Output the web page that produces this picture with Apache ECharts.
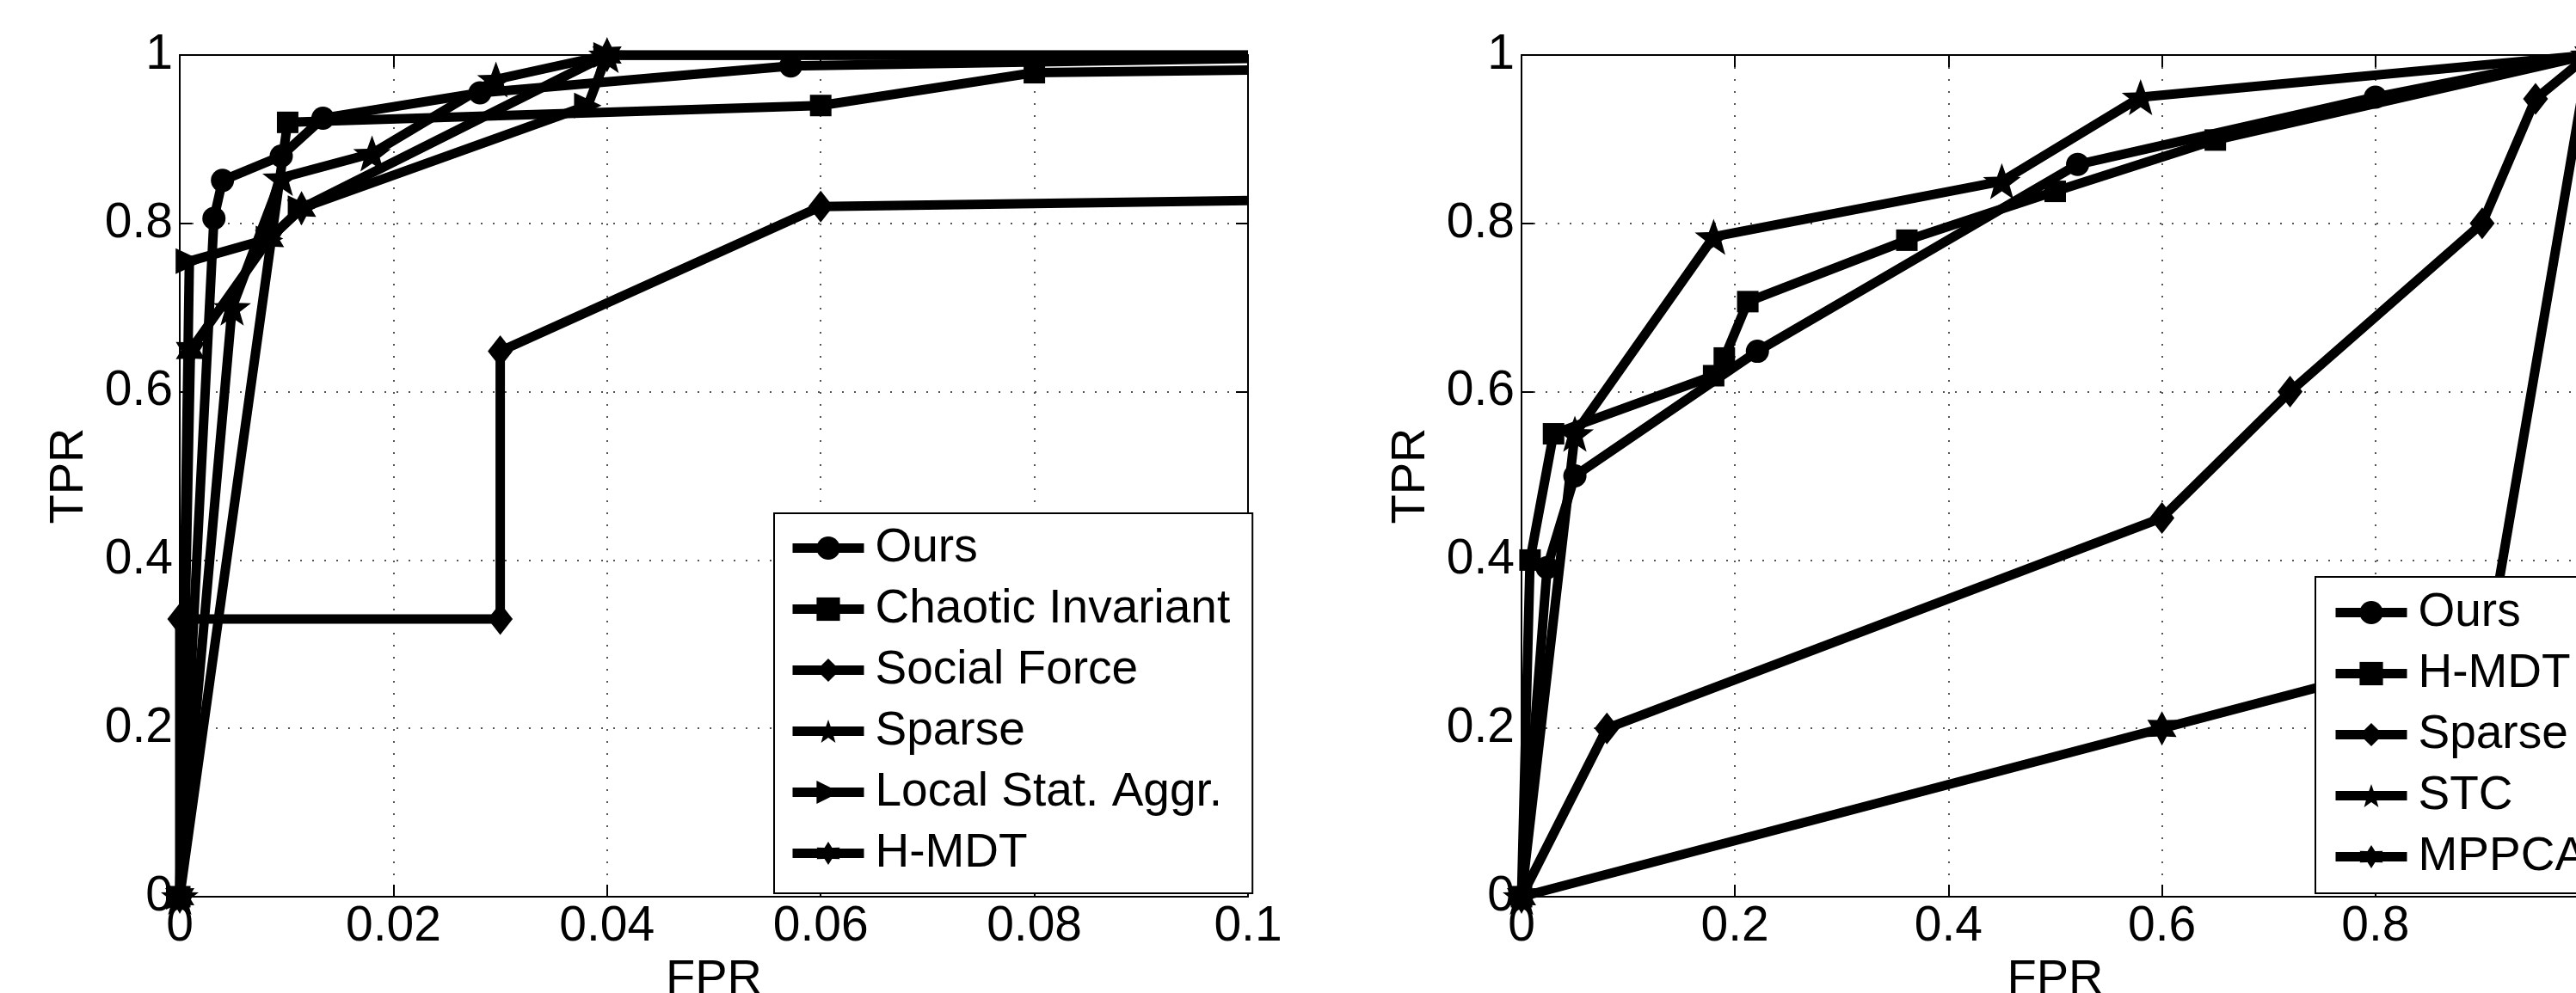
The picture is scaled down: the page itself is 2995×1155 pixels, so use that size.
<!DOCTYPE html>
<html>
<head>
<meta charset="utf-8">
<script src="https://cdn.jsdelivr.net/npm/echarts/dist/echarts.min.js"></script>
<style>
html, body { margin: 0; padding: 0; background: #fff; }
#main { width: 2995px; height: 1155px; }
</style>
</head>
<body>
<div id="main"></div>
<script>
// 左图数据 (FPR, TPR)
var leftNames = ['Ours', 'Chaotic Invariant', 'Social Force', 'Sparse', 'Local Stat. Aggr.', 'H-MDT'];
var leftOursX = [0, 0.0032, 0.0040, 0.0095, 0.0134, 0.0281, 0.0572, 0.1];
var leftOursY = [0, 0.806, 0.851, 0.880, 0.925, 0.955, 0.987, 0.996];
var leftChaoticX = [0, 0.0101, 0.06, 0.08, 0.1];
var leftChaoticY = [0, 0.920, 0.940, 0.979, 0.982];
var leftSocialX = [0, 0, 0.03, 0.03, 0.06, 0.1];
var leftSocialY = [0, 0.33, 0.33, 0.648, 0.820, 0.827];
var leftSparseX = [0, 0.0049, 0.0095, 0.0180, 0.0296, 0.04, 0.1];
var leftSparseY = [0, 0.700, 0.854, 0.883, 0.971, 1, 1];
var leftLsaX = [0, 0.0009, 0.0084, 0.0114, 0.0382, 0.04, 0.1];
var leftLsaY = [0, 0.755, 0.782, 0.818, 0.940, 1, 1];
var leftHmdtX = [0, 0.001, 0.0084, 0.0114, 0.04, 0.1];
var leftHmdtY = [0, 0.649, 0.782, 0.818, 1, 1];

// 右图数据
var rightNames = ['Ours', 'H-MDT', 'Sparse', 'STC', 'MPPCA'];
var rightOursX = [0, 0.024, 0.05, 0.221, 0.521, 0.80, 1];
var rightOursY = [0, 0.391, 0.50, 0.648, 0.870, 0.950, 1];
var rightHmdtX = [0, 0.008, 0.03, 0.18, 0.19, 0.212, 0.361, 0.50, 0.65, 1];
var rightHmdtY = [0, 0.40, 0.55, 0.619, 0.640, 0.707, 0.780, 0.838, 0.899, 1];
var rightSparseX = [0, 0.08, 0.60, 0.72, 0.90, 0.95, 1];
var rightSparseY = [0, 0.20, 0.45, 0.60, 0.80, 0.948, 1];
var rightStcX = [0, 0.05, 0.18, 0.45, 0.58, 1];
var rightStcY = [0, 0.55, 0.784, 0.850, 0.950, 1];
var rightMppcaX = [0, 0.60, 0.906, 1];
var rightMppcaY = [0, 0.20, 0.302, 1];

// 刻度
var leftXTicks = ['0', '0.02', '0.04', '0.06', '0.08', '0.1'];
var rightXTicks = ['0', '0.2', '0.4', '0.6', '0.8', '1'];
var yTicks = ['0', '0.2', '0.4', '0.6', '0.8', '1'];

var FONT = '"Liberation Sans", Arial, Helvetica, sans-serif';
var LW = 11; // 线宽

// 标记形状 (MATLAB 的 o s d p > h)
var STAR5 = 'path://M100 0 L124 67 L195.1 69.1 L139 112 L158.8 180.9 L100 141 L41.2 180.9 L61 112 L4.9 69.1 L76 67 Z';
var HEXA = 'path://M100 0 L128 52 L186.6 50 L156 100 L186.6 150 L128 148 L100 200 L72 148 L13.4 150 L44 100 L13.4 50 L72 52 Z';
var marks = {
    circle: { symbol: 'circle', size: 27, rotate: 0 },
    square: { symbol: 'rect', size: 25, rotate: 0 },
    diamond: { symbol: 'diamond', size: [29, 37], rotate: 0 },
    star: { symbol: STAR5, size: [44, 42], rotate: 0 },
    right: { symbol: 'triangle', size: [30, 32], rotate: -90 },
    hexa: { symbol: HEXA, size: [34, 40], rotate: 0 }
};

function makeSeries(name, xs, ys, mark, axisIdx, xMax) {
    var m = marks[mark];
    var pts = xs.map(function (x, i) {
        var p = { value: [x, ys[i]] };
        // 轴边界上的终点不画标记
        if (x >= xMax && xMax < 1) p.symbol = 'none';
        return p;
    });
    return {
        name: name,
        type: 'line',
        xAxisIndex: axisIdx,
        yAxisIndex: axisIdx,
        data: pts,
        symbol: m.symbol,
        symbolSize: m.size,
        symbolRotate: m.rotate,
        showAllSymbol: true,
        clip: true,
        lineStyle: { color: '#000', width: LW },
        itemStyle: { color: '#000' },
        emphasis: { disabled: true }
    };
}

function tickFmt(labels, step) {
    return function (v) {
        var i = Math.round(v / step);
        return labels[i] !== undefined ? labels[i] : '';
    };
}

function xAxisPair(gridIdx, max, step, labels) {
    return [{
        type: 'value', gridIndex: gridIdx, position: 'bottom',
        min: 0, max: max, interval: step,
        name: 'FPR', nameLocation: 'middle', nameGap: 62,
        nameTextStyle: { color: '#000', fontSize: 56, fontFamily: FONT },
        axisLine: { show: true, onZero: false, lineStyle: { color: '#000', width: 2 } },
        axisTick: { show: true, inside: true, length: 14, lineStyle: { color: '#000', width: 2 } },
        axisLabel: { color: '#000', fontSize: 57, fontFamily: FONT, margin: 7, showMinLabel: true, showMaxLabel: true, formatter: tickFmt(labels, step) },
        splitLine: { show: true, lineStyle: { color: '#555', width: 2, type: [2, 12] } }
    }, {
        type: 'value', gridIndex: gridIdx, position: 'top',
        min: 0, max: max, interval: step,
        axisLine: { show: true, onZero: false, lineStyle: { color: '#000', width: 2 } },
        axisTick: { show: true, inside: true, length: 14, lineStyle: { color: '#000', width: 2 } },
        axisLabel: { show: false },
        splitLine: { show: false }
    }];
}

function yAxisPair(gridIdx) {
    return [{
        type: 'value', gridIndex: gridIdx, position: 'left',
        min: 0, max: 1, interval: 0.2,
        name: 'TPR', nameLocation: 'middle', nameGap: 100,
        nameTextStyle: { color: '#000', fontSize: 56, fontFamily: FONT },
        axisLine: { show: true, onZero: false, lineStyle: { color: '#000', width: 2 } },
        axisTick: { show: true, inside: true, length: 14, lineStyle: { color: '#000', width: 2 } },
        axisLabel: { color: '#000', fontSize: 57, fontFamily: FONT, margin: 8, showMinLabel: true, showMaxLabel: true, formatter: tickFmt(yTicks, 0.2) },
        splitLine: { show: true, lineStyle: { color: '#555', width: 2, type: [2, 12] } }
    }, {
        type: 'value', gridIndex: gridIdx, position: 'right',
        min: 0, max: 1, interval: 0.2,
        axisLine: { show: true, onZero: false, lineStyle: { color: '#000', width: 2 } },
        axisTick: { show: true, inside: true, length: 14, lineStyle: { color: '#000', width: 2 } },
        axisLabel: { show: false },
        splitLine: { show: false }
    }];
}

function legendBox(names, left, top, pad) {
    return {
        orient: 'vertical',
        left: left, top: top,
        data: names,
        padding: pad,
        itemGap: 16,
        itemWidth: 83,
        itemHeight: 34,
        backgroundColor: '#fff',
        borderColor: '#000',
        borderWidth: 2,
        borderRadius: 0,
        selectedMode: false,
        lineStyle: { width: LW, color: '#000' },
        itemStyle: { color: '#000' },
        textStyle: { color: '#000', fontSize: 55, fontFamily: FONT, padding: [0, 0, 0, 8] },
        formatter: function (n) { return n.replace(/^r:/, ''); }
    };
}

var myChart = echarts.init(document.getElementById('main'));

var option = {
    animation: false,
    backgroundColor: '#fff',
    grid: [
        { left: 209, top: 64, width: 1242, height: 979, containLabel: false, outerBoundsMode: 'none' },
        { left: 1769, top: 64, width: 1241, height: 979, containLabel: false, outerBoundsMode: 'none' }
    ],
    xAxis: xAxisPair(0, 0.1, 0.02, leftXTicks).concat(xAxisPair(1, 1, 0.2, rightXTicks)),
    yAxis: yAxisPair(0).concat(yAxisPair(1)),
    legend: [
        legendBox(leftNames, 900, 597, [13, 26, 19, 16]),
        legendBox(rightNames.map(function (n) { return 'r:' + n; }), 2692, 671, [14, 40, 15, 18])
    ],
    series: [
        makeSeries('Ours', leftOursX, leftOursY, 'circle', 0, 0.1),
        makeSeries('Chaotic Invariant', leftChaoticX, leftChaoticY, 'square', 0, 0.1),
        makeSeries('Social Force', leftSocialX, leftSocialY, 'diamond', 0, 0.1),
        makeSeries('Sparse', leftSparseX, leftSparseY, 'star', 0, 0.1),
        makeSeries('Local Stat. Aggr.', leftLsaX, leftLsaY, 'right', 0, 0.1),
        makeSeries('H-MDT', leftHmdtX, leftHmdtY, 'hexa', 0, 0.1),
        makeSeries('r:Ours', rightOursX, rightOursY, 'circle', 2, 1),
        makeSeries('r:H-MDT', rightHmdtX, rightHmdtY, 'square', 2, 1),
        makeSeries('r:Sparse', rightSparseX, rightSparseY, 'diamond', 2, 1),
        makeSeries('r:STC', rightStcX, rightStcY, 'star', 2, 1),
        makeSeries('r:MPPCA', rightMppcaX, rightMppcaY, 'hexa', 2, 1)
    ]
};

// series 的 yAxisIndex 与 xAxisIndex 一致 (0 和 2)
myChart.setOption(option);
</script>
</body>
</html>
